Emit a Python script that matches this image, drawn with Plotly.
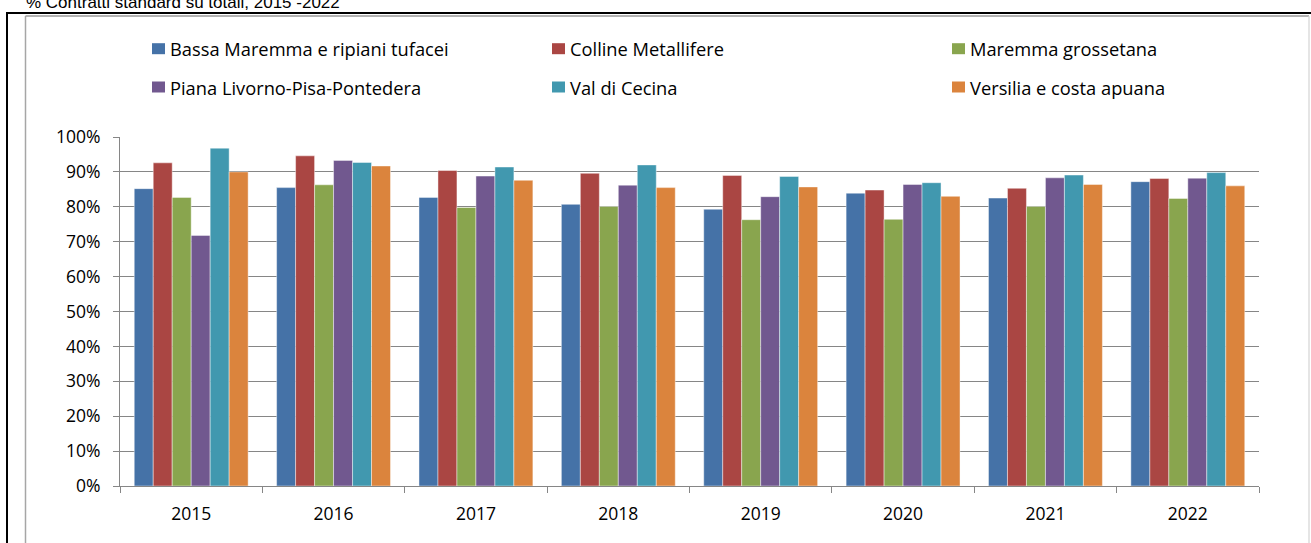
import plotly.graph_objects as go

# Share of standard contracts over total, by labour market area
years = ["2015", "2016", "2017", "2018", "2019", "2020", "2021", "2022"]

bassa_maremma = [0.852, 0.855, 0.827, 0.807, 0.793, 0.839, 0.825, 0.872]
colline_metallifere = [0.926, 0.946, 0.904, 0.896, 0.890, 0.848, 0.853, 0.881]
maremma_grossetana = [0.827, 0.863, 0.798, 0.801, 0.763, 0.764, 0.801, 0.824]
piana_livorno = [0.718, 0.933, 0.888, 0.862, 0.829, 0.864, 0.883, 0.882]
val_di_cecina = [0.968, 0.927, 0.914, 0.920, 0.887, 0.869, 0.891, 0.898]
versilia = [0.900, 0.917, 0.876, 0.855, 0.857, 0.830, 0.864, 0.860]

series_names = [
    "Bassa Maremma e ripiani tufacei",
    "Colline Metallifere",
    "Maremma grossetana",
    "Piana Livorno-Pisa-Pontedera",
    "Val di Cecina",
    "Versilia e costa apuana",
]
series_values = [bassa_maremma, colline_metallifere, maremma_grossetana,
                 piana_livorno, val_di_cecina, versilia]
colors = ["#4572A7", "#AA4643", "#89A54E", "#71588F", "#4198AF", "#DB843D"]

W, H = 1311, 543
ML, MR, MT, MB = 120, 52, 137, 57
PW, PH = W - ML - MR, H - MT - MB


def px(xp):
    """page pixel x -> paper x"""
    return (xp - ML) / PW


def py(yp):
    """page pixel y -> paper y"""
    return (H - MB - yp) / PH


FONT = "Open Sans"

fig = go.Figure()
for name, vals, col in zip(series_names, series_values, colors):
    fig.add_trace(go.Bar(
        x=years, y=vals, name=name,
        marker=dict(color=col, line=dict(color="rgba(255,255,255,0.55)", width=0.8)),
        showlegend=False,
    ))

shapes = []
annotations = []

# outer black frame and inner grey chart border
shapes.append(dict(type="rect", xref="paper", yref="paper",
                   x0=px(7), x1=px(W + 20), y0=py(H + 20), y1=py(13),
                   line=dict(color="#000000", width=2), layer="below"))
shapes.append(dict(type="line", xref="paper", yref="paper",
                   x0=px(25.5), x1=px(25.5), y0=py(H + 20), y1=py(16),
                   line=dict(color="#a6a6a6", width=1.5), layer="below"))
shapes.append(dict(type="line", xref="paper", yref="paper",
                   x0=px(25.5), x1=px(1309), y0=py(16), y1=py(16),
                   line=dict(color="#9a9a9a", width=1.5), layer="below"))
shapes.append(dict(type="line", xref="paper", yref="paper",
                   x0=px(1309), x1=px(1309), y0=py(H + 20), y1=py(16),
                   line=dict(color="#d4d4d4", width=1.2), layer="below"))

# legend: three columns, two rows
col_x = [152, 552, 952]
row_y = [48.7, 87]
for i, (name, col) in enumerate(zip(series_names, colors)):
    cx = col_x[i % 3]
    cy = row_y[i // 3]
    shapes.append(dict(type="rect", xref="paper", yref="paper",
                       x0=px(cx), x1=px(cx + 13), y0=py(cy + 5.5), y1=py(cy - 5.5),
                       fillcolor=col, line=dict(width=0)))
    annotations.append(dict(xref="paper", yref="paper", x=px(cx + 16), y=py(cy),
                            xanchor="left", yanchor="middle", showarrow=False,
                            text=name, font=dict(family=FONT, size=18.3, color="#000000")))

# chart title (partly above the page edge)
annotations.append(dict(xref="paper", yref="paper", x=px(24), y=py(2.5),
                        xanchor="left", yanchor="middle", showarrow=False,
                        text="% Contratti standard su totali, 2015 -2022",
                        font=dict(family="Liberation Sans", size=17, color="#000000")))

fig.update_layout(
    width=W, height=H,
    margin=dict(l=ML, r=MR, t=MT, b=MB, pad=0),
    paper_bgcolor="#ffffff", plot_bgcolor="#ffffff",
    barmode="group", bargap=0.2, bargroupgap=0,
    shapes=shapes, annotations=annotations,
    font=dict(family=FONT, size=18, color="#000000"),
)
fig.update_xaxes(
    type="category", showline=True, linecolor="#868686", linewidth=1.2,
    ticks="outside", tickson="boundaries", ticklen=6, tickcolor="#868686",
    tickfont=dict(family=FONT, size=17.5, color="#000000"),
    ticklabelstandoff=12,
    showgrid=False,
)
fig.update_yaxes(
    range=[0, 1], dtick=0.1, tickformat=".0%",
    showline=True, linecolor="#868686", linewidth=1.2,
    ticks="outside", ticklen=6, tickcolor="#868686",
    showgrid=True, gridcolor="#868686", gridwidth=1.2,
    zeroline=False,
    tickfont=dict(family=FONT, size=17.5, color="#000000"),
    ticklabelstandoff=9,
)

fig.write_html("out.html")
